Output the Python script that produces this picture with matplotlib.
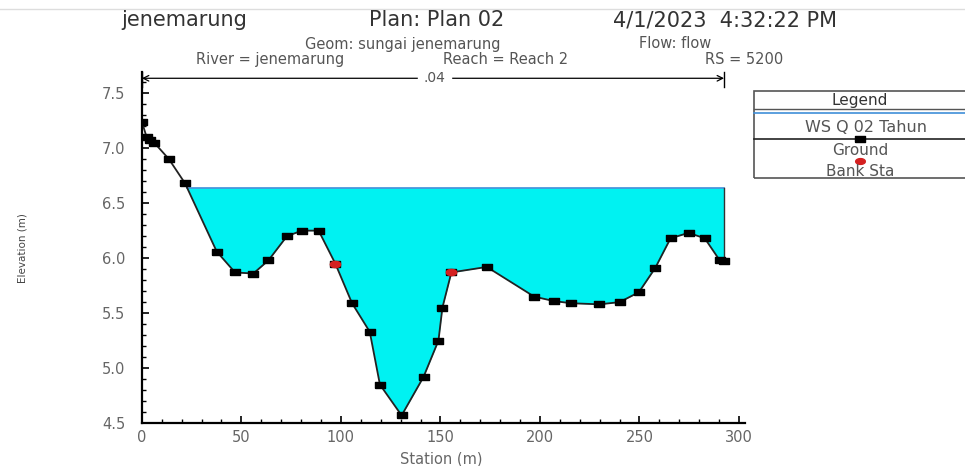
import numpy as np
import matplotlib
matplotlib.use("Agg")
import matplotlib.pyplot as plt
from matplotlib.ticker import MultipleLocator

plt.rcParams['font.family'] = ['DejaVu Sans']

# ground profile
station = [0, 2.4, 4, 6.2, 13.6, 21.7, 37.6, 46.8, 56, 63.6, 72.9, 80.4, 88.8, 97.2,
           105.6, 114.5, 119.6, 130.5, 141.5, 149, 151, 155.5, 173.3, 197.1, 206.9,
           215.6, 229.9, 240, 249.7, 257.9, 265.6, 274.7, 282.8, 290.3, 292.5]
elevation = [7.24, 7.10, 7.07, 7.05, 6.90, 6.68, 6.06, 5.87, 5.86, 5.98, 6.20, 6.25, 6.25, 5.95,
             5.59, 5.33, 4.85, 4.57, 4.92, 5.25, 5.55, 5.87, 5.92, 5.65, 5.61,
             5.59, 5.58, 5.60, 5.69, 5.91, 6.18, 6.23, 6.18, 5.98, 5.97]
bank_sta = [97.2, 155.5]
bank_elev = [5.95, 5.87]
ws_elev = 6.64
n_value = ".04"

sta = np.array(station)
elv = np.array(elevation)

# HEC-RAS screenshot is stretched sideways, so markers are wide
sq = [(-1, -0.6), (1, -0.6), (1, 0.6), (-1, 0.6), (-1, -0.6)]
t = np.linspace(0, 2 * np.pi, 30)
ell = list(zip(np.cos(t), 0.6 * np.sin(t)))

fig = plt.figure(figsize=(9.65, 4.66), dpi=100)
ax = fig.add_axes([0.147, 0.092, 0.625, 0.753])

# left edge of water: where the bank drops below WS
i = np.where(elv < ws_elev)[0][0]
x_ws0 = np.interp(ws_elev, [elv[i], elv[i - 1]], [sta[i], sta[i - 1]])
xs = np.concatenate([[x_ws0], sta[i:]])
ys = np.concatenate([[ws_elev], elv[i:]])
ax.fill_between(xs, ys, ws_elev, color="#00f2f2", lw=0)
ax.plot([x_ws0, sta[-1]], [ws_elev, ws_elev], color="#3f8fd8", lw=1.2)
ax.plot([sta[-1], sta[-1]], [elv[-1], ws_elev], color="#333333", lw=1)

ax.plot(sta, elv, color="#222222", lw=1.3, marker=sq, ms=6.5, mfc="black", mec="black")
ax.plot(bank_sta, bank_elev, ls="none", marker=ell, ms=7.5, color="#d42020")

# manning's n bar
ax.annotate("", xy=(0, 7.635), xytext=(sta[-1], 7.635),
            arrowprops=dict(arrowstyle="<->", lw=0.9, color="black", shrinkA=0, shrinkB=0),
            annotation_clip=False)
for xe in [0, sta[-1]]:
    ax.plot([xe, xe], [7.56, 7.69], color="black", lw=1, clip_on=False)
ax.text(147, 7.64, n_value, ha="center", va="center", fontsize=10,
        color="#555555", backgroundcolor="white")

ax.set_xlim(0, 303)
ax.set_ylim(4.5, 7.69)
ax.xaxis.set_major_locator(MultipleLocator(50))
ax.xaxis.set_minor_locator(MultipleLocator(10))
ax.yaxis.set_minor_locator(MultipleLocator(0.1))
ax.set_yticks([4.5, 5.0, 5.5, 6.0, 6.5, 7.0, 7.5])
ax.set_yticklabels(["4.5", "5.0", "5.5", "6.0", "6.5", "7.0", "7.5"])
ax.tick_params(which="major", direction="in", length=5, labelsize=10.5, labelcolor="#666666", width=1.2)
ax.tick_params(axis="y", which="major", pad=12)
ax.tick_params(axis="x", which="major", pad=5)
ax.tick_params(which="minor", direction="in", length=3, width=1)
ax.spines["top"].set_visible(False)
ax.spines["right"].set_visible(False)
ax.spines["left"].set_linewidth(1.6)
ax.spines["bottom"].set_linewidth(1.6)
ax.set_xlabel("Station (m)", fontsize=10.5, color="#666666")
ax.xaxis.set_label_coords(0.497, -0.08)
ax.set_ylabel("Elevation (m)", fontsize=7.5, color="#444444")
ax.yaxis.set_label_coords(-0.19, 0.5)

# title lines, each group centred where it sits in the screenshot
def put(x_px, y_px, s, size, color):
    fig.text(x_px / 965, 1 - y_px / 466, s, ha="center", va="center", fontsize=size, color=color)

put(184, 20, "jenemarung", 15, "#333333")
put(437, 20, "Plan: Plan 02", 15, "#333333")
put(725, 20, "4/1/2023  4:32:22 PM", 15, "#333333")
put(403, 44, "Geom: sungai jenemarung", 10.5, "#555555")
put(675, 44, "Flow: flow", 10.5, "#555555")
put(270, 60, "River = jenemarung", 10.5, "#555555")
put(506, 60, "Reach = Reach 2", 10.5, "#555555")
put(744, 60, "RS = 5200", 10.5, "#555555")
fig.add_artist(plt.Line2D([0, 1], [0.98, 0.98], color="#dddddd", lw=1))

# legend box drawn by hand like HEC-RAS
lx0, lx1 = 754 / 965, 1.02
ly_top, ly_bot = 1 - 91 / 466, 1 - 178 / 466
fig.add_artist(plt.Rectangle((lx0, ly_bot), lx1 - lx0, ly_top - ly_bot, fill=False,
                             ec="#555555", lw=1.2, transform=fig.transFigure))
cx = 860 / 965
fig.text(cx, 1 - 100 / 466, "Legend", ha="center", va="center", fontsize=11, color="#333333")
fig.add_artist(plt.Line2D([lx0, lx1], [1 - 109 / 466] * 2, color="#555555", lw=1))
fig.add_artist(plt.Line2D([lx0, lx1], [1 - 113 / 466] * 2, color="#3f8fd8", lw=1.2))
fig.text(866 / 965, 1 - 127 / 466, "WS Q 02 Tahun", ha="center", va="center", fontsize=11.5, color="#555555")
fig.add_artist(plt.Line2D([lx0, lx1], [1 - 139 / 466] * 2, color="#222222", lw=1.2))
fig.add_artist(plt.Line2D([cx], [1 - 139 / 466], marker=sq, ms=6.5, color="black"))
fig.text(cx, 1 - 150 / 466, "Ground", ha="center", va="center", fontsize=11, color="#555555")
fig.add_artist(plt.Line2D([cx], [1 - 161 / 466], marker=ell, ms=7, color="#d42020", ls="none"))
fig.text(cx, 1 - 172 / 466, "Bank Sta", ha="center", va="center", fontsize=11, color="#555555")

fig.savefig("out.png", dpi=100)
